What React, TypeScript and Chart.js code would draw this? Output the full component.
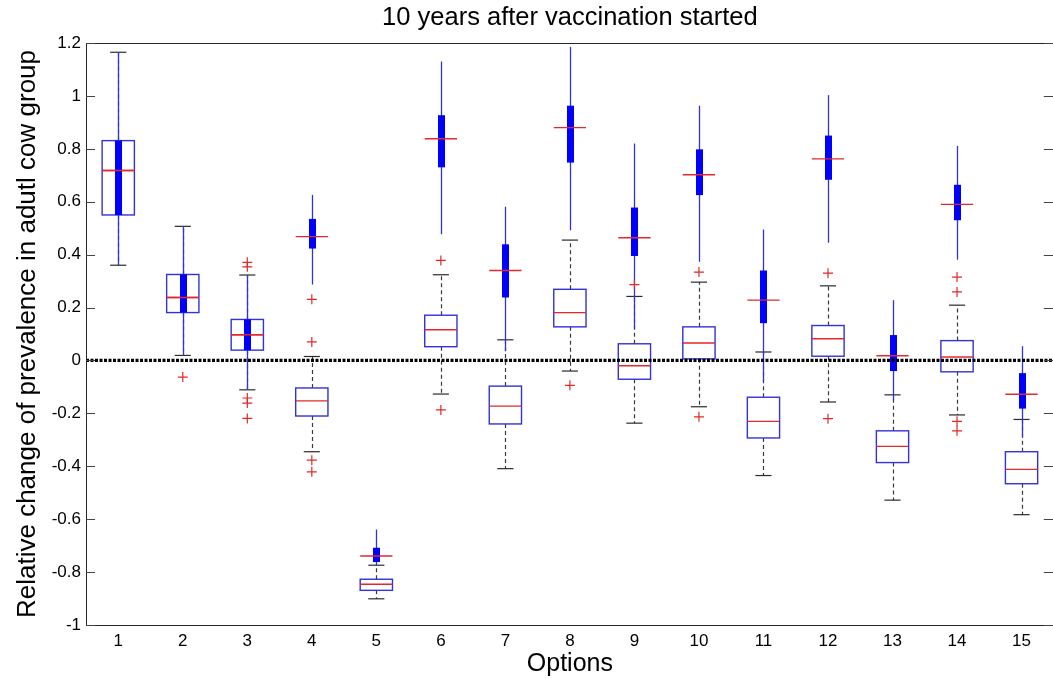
import { useEffect, useRef } from "react";
import { Chart, registerables } from "chart.js";

Chart.register(...registerables);

// Category labels along the x axis
const options = ["1", "2", "3", "4", "5", "6", "7", "8", "9", "10", "11", "12", "13", "14", "15"];

// Y axis ticks
const yTicks = [-1, -0.8, -0.6, -0.4, -0.2, 0, 0.2, 0.4, 0.6, 0.8, 1, 1.2];
const yTickLabels = ["-1", "-0.8", "-0.6", "-0.4", "-0.2", "0", "0.2", "0.4", "0.6", "0.8", "1", "1.2"];

// Outlined boxes with dashed whiskers
const boxLo = [0.36, 0.019, -0.111, -0.345, -0.901, -0.127, -0.409, -0.04, -0.237, -0.175, -0.435, -0.157, -0.528, -0.206, -0.583];
const boxQ1 = [0.55, 0.181, 0.039, -0.21, -0.869, 0.052, -0.24, 0.127, -0.071, 0.006, -0.293, 0.016, -0.386, -0.043, -0.466];
const boxMed = [0.718, 0.238, 0.097, -0.153, -0.846, 0.116, -0.173, 0.181, -0.02, 0.066, -0.23, 0.082, -0.325, 0.013, -0.412];
const boxQ3 = [0.831, 0.325, 0.155, -0.104, -0.827, 0.171, -0.097, 0.269, 0.063, 0.127, -0.139, 0.132, -0.266, 0.075, -0.345];
const boxHi = [1.165, 0.507, 0.323, 0.015, -0.774, 0.324, 0.078, 0.455, 0.242, 0.296, 0.032, 0.282, -0.13, 0.209, -0.223];
const boxOut: number[][] = [
  [],
  [-0.063],
  [0.371, 0.354, -0.142, -0.161, -0.219],
  [-0.377, -0.421],
  [],
  [0.378, -0.187],
  [],
  [-0.094],
  [0.287],
  [0.334, -0.213],
  [],
  [0.33, -0.22],
  [],
  [0.315, 0.259, -0.23, -0.266],
  [],
];

// Compact boxes (thick bar, solid whiskers)
const compLo = [0.36, 0.019, -0.111, 0.287, -0.775, 0.477, 0.035, 0.492, 0.12, 0.373, -0.08, 0.445, -0.15, 0.381, -0.29];
const compQ1 = [0.55, 0.181, 0.039, 0.423, -0.762, 0.73, 0.238, 0.748, 0.395, 0.625, 0.141, 0.683, -0.04, 0.53, -0.182];
const compMed = [0.718, 0.238, 0.097, 0.468, -0.739, 0.838, 0.34, 0.88, 0.464, 0.702, 0.228, 0.762, 0.018, 0.59, -0.128];
const compQ3 = [0.831, 0.325, 0.155, 0.535, -0.708, 0.927, 0.439, 0.963, 0.578, 0.798, 0.34, 0.85, 0.096, 0.664, -0.048];
const compHi = [1.165, 0.507, 0.323, 0.626, -0.639, 1.13, 0.581, 1.185, 0.82, 0.963, 0.495, 1.003, 0.228, 0.811, 0.054];
const compOut: number[][] = [[], [], [], [0.231, 0.07], [], [], [], [], [], [], [], [], [], [], []];

const FONT = "'Liberation Sans', Arial, Helvetica, sans-serif";
const RED = "rgb(226, 40, 40)";
const BLUE_LINE = "rgb(50, 50, 215)";
const BLUE_FILL = "rgb(0, 0, 255)";

const toPoints = (lists: number[][]) =>
  lists.flatMap((vals, i) => vals.map((v) => ({ x: i + 1, y: v })));

const boxPlugin = {
  id: "boxes",
  beforeDatasetsDraw(chart: any) {
    const { ctx, scales } = chart;
    const x = scales.x;
    const y = scales.y;
    const px = (v: number) => x.getPixelForValue(v);
    const py = (v: number) => y.getPixelForValue(v);

    const hline = (x0: number, x1: number, yy: number) => {
      ctx.beginPath();
      ctx.moveTo(x0, yy);
      ctx.lineTo(x1, yy);
      ctx.stroke();
    };
    const vline = (xx: number, y0: number, y1: number) => {
      ctx.beginPath();
      ctx.moveTo(xx, y0);
      ctx.lineTo(xx, y1);
      ctx.stroke();
    };

    ctx.save();
    // outlined boxes
    options.forEach((_, i) => {
      const c = i + 1;
      const xc = Math.round(px(c)) + 0.5;
      const xl = px(c - 0.25);
      const xr = px(c + 0.25);
      const cl = px(c - 0.125);
      const cr = px(c + 0.125);

      ctx.lineWidth = 1.2;
      ctx.strokeStyle = "#3a3a3a";
      ctx.setLineDash([4, 3]);
      vline(xc, py(boxQ3[i]), py(boxHi[i]));
      vline(xc, py(boxQ1[i]), py(boxLo[i]));
      ctx.setLineDash([]);
      ctx.strokeStyle = "#2a2a2a";
      hline(cl, cr, py(boxHi[i]));
      hline(cl, cr, py(boxLo[i]));

      ctx.strokeStyle = BLUE_LINE;
      ctx.lineWidth = 1.4;
      ctx.strokeRect(xl, py(boxQ3[i]), xr - xl, py(boxQ1[i]) - py(boxQ3[i]));

      ctx.strokeStyle = RED;
      ctx.lineWidth = 1.3;
      hline(xl, xr, py(boxMed[i]));
    });

    // compact boxes
    options.forEach((_, i) => {
      const c = i + 1;
      const xc = Math.round(px(c)) + 0.5;
      const xl = px(c - 0.25);
      const xr = px(c + 0.25);

      ctx.strokeStyle = BLUE_LINE;
      ctx.lineWidth = 1.3;
      vline(xc, py(compLo[i]), py(compHi[i]));

      ctx.fillStyle = BLUE_FILL;
      ctx.fillRect(xc - 3.5, py(compQ3[i]), 7, py(compQ1[i]) - py(compQ3[i]));

      ctx.strokeStyle = RED;
      ctx.lineWidth = 1.4;
      hline(xl, xr, py(compMed[i]));
    });
    ctx.restore();
  },
  afterDraw(chart: any) {
    const { ctx, chartArea, scales } = chart;
    const { left, right, top, bottom } = chartArea;
    ctx.save();
    ctx.strokeStyle = "#262626";
    ctx.lineWidth = 1;
    ctx.strokeRect(Math.round(left) + 0.5, Math.round(top) + 0.5, Math.round(right - left) - 1, Math.round(bottom - top));
    ctx.strokeStyle = "#444";
    yTicks.forEach((v) => {
      const yy = Math.round(scales.y.getPixelForValue(v)) + 0.5;
      ctx.beginPath();
      ctx.moveTo(left, yy);
      ctx.lineTo(left + 9, yy);
      ctx.moveTo(right - 10, yy);
      ctx.lineTo(right, yy);
      ctx.stroke();
    });
    ctx.restore();
  },
};

export default function App() {
  const canvasRef = useRef<HTMLCanvasElement | null>(null);

  useEffect(() => {
    document.body.style.overflow = "hidden";
    const canvas = canvasRef.current;
    if (!canvas) return;

    const chart = new Chart(canvas, {
      type: "scatter",
      data: {
        datasets: [
          {
            label: "zero",
            data: [
              { x: 0.5, y: 0 },
              { x: 15.5, y: 0 },
            ],
            showLine: true,
            borderColor: "#000",
            borderWidth: 3.2,
            borderDash: [3, 1.5],
            pointRadius: 0,
          },
          {
            label: "outliers",
            data: toPoints(boxOut),
            pointStyle: "cross",
            pointRadius: 5,
            borderColor: RED,
            borderWidth: 1.2,
          },
          {
            label: "compact outliers",
            data: toPoints(compOut),
            pointStyle: "cross",
            pointRadius: 5,
            borderColor: RED,
            borderWidth: 1.2,
          },
        ],
      },
      options: {
        responsive: false,
        animation: false,
        devicePixelRatio: 1,
        layout: { padding: { left: 0, right: 4, top: 0, bottom: 0 } },
        plugins: {
          legend: { display: false },
          tooltip: { enabled: false },
          title: {
            display: true,
            text: "10 years after vaccination started",
            color: "#000",
            fullSize: false,
            font: { family: FONT, size: 25.5, weight: "normal", lineHeight: 1.2 },
            padding: { top: 3, bottom: 9.4 },
          },
        },
        scales: {
          x: {
            type: "linear",
            min: 0.5,
            max: 15.5,
            grid: { display: false, drawTicks: false },
            border: { display: false },
            afterBuildTicks: (s: any) => {
              s.ticks = options.map((_, i) => ({ value: i + 1 }));
            },
            afterFit: (s: any) => {
              s.height = 54;
            },
            ticks: {
              autoSkip: false,
              maxRotation: 0,
              padding: 6,
              color: "#000",
              font: { family: FONT, size: 17 },
              callback: (_v: any, i: number) => options[i],
            },
            title: {
              display: true,
              text: "Options",
              color: "#000",
              font: { family: FONT, size: 25, lineHeight: 1.2 },
              padding: { top: 0, bottom: 0 },
            },
          },
          y: {
            type: "linear",
            min: -1,
            max: 1.2,
            grid: { display: false, drawTicks: false },
            border: { display: false },
            afterBuildTicks: (s: any) => {
              s.ticks = yTicks.map((v) => ({ value: v }));
            },
            afterFit: (s: any) => {
              s.width = 86;
            },
            ticks: {
              padding: 5,
              color: "#000",
              font: { family: FONT, size: 17 },
              callback: (_v: any, i: number) => yTickLabels[i],
            },
            title: {
              display: true,
              text: "Relative change of prevalence in adutl cow group",
              color: "#000",
              font: { family: FONT, size: 26, lineHeight: 1.2 },
              padding: { top: 12, bottom: 0 },
            },
          },
        },
      },
      plugins: [boxPlugin],
    });

    return () => chart.destroy();
  }, []);

  return (
    <div style={{ position: "fixed", left: 0, top: 0, width: 1060, height: 679, background: "#fff" }}>
      <canvas ref={canvasRef} width={1060} height={679} style={{ display: "block" }} />
    </div>
  );
}
